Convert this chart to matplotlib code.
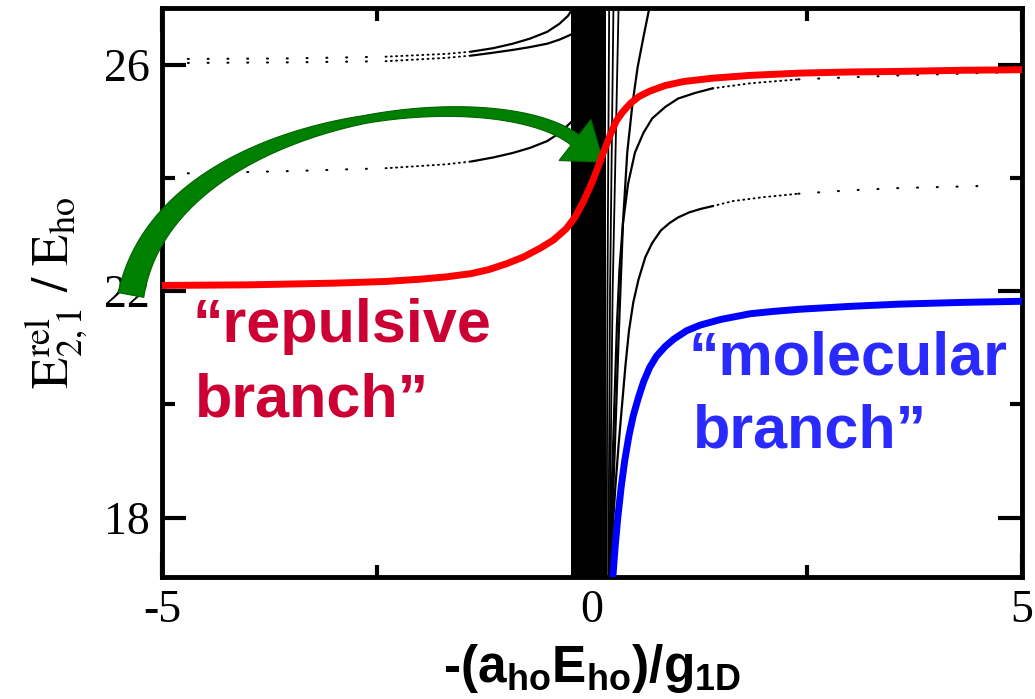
import numpy as np
import matplotlib
matplotlib.use('Agg')
import matplotlib.pyplot as plt
from matplotlib.patches import Polygon

plt.rcParams['mathtext.fontset'] = 'custom'
plt.rcParams['mathtext.rm'] = 'Liberation Sans'
plt.rcParams['mathtext.bf'] = 'Liberation Sans:bold'
plt.rcParams['mathtext.it'] = 'Liberation Sans:italic'

# ---- data ----
red_x = [-5.0, -4.0, -3.0, -2.4, -2.0, -1.7, -1.4, -1.2, -1.0, -0.8, -0.6, -0.45, -0.3, -0.2,
         -0.1, 0.0, 0.06, 0.12, 0.21, 0.28, 0.36, 0.45, 0.55, 0.67, 0.85, 1.06, 1.4, 1.84,
         2.42, 3.0, 3.58, 4.3, 5.0]
red_y = [22.10, 22.11, 22.14, 22.17, 22.21, 22.25, 22.31, 22.38, 22.48, 22.60, 22.76, 22.90,
         23.10, 23.30, 23.58, 23.92, 24.15, 24.40, 24.75, 25.00, 25.17, 25.32, 25.44, 25.53,
         25.63, 25.70, 25.76, 25.81, 25.85, 25.87, 25.88, 25.90, 25.91]

blue_x = [0.24, 0.27, 0.3, 0.34, 0.38, 0.43, 0.48, 0.54, 0.6, 0.67, 0.75, 0.85, 0.95, 1.1,
          1.26, 1.5, 1.84, 2.1, 2.42, 3.0, 3.58, 4.3, 5.0]
blue_y = [16.9, 17.5, 18.0, 18.55, 19.0, 19.45, 19.8, 20.12, 20.4, 20.65, 20.85, 21.02, 21.15,
          21.3, 21.4, 21.5, 21.6, 21.64, 21.68, 21.73, 21.77, 21.8, 21.82]

# black levels (left of the pole)
lvl_a_x = [-4.7, -3.5, -2.4, -1.69, -1.4, -1.15, -0.92, -0.72, -0.52, -0.38, -0.28, -0.2]
lvl_a_y = [26.10, 26.11, 26.14, 26.19, 26.23, 26.29, 26.37, 26.46, 26.58, 26.72, 26.86, 27.05]
lvl_b_x = [-4.7, -3.5, -2.4, -1.69, -1.4, -1.15, -0.92, -0.72, -0.52, -0.38, -0.23]
lvl_b_y = [26.03, 26.04, 26.06, 26.12, 26.16, 26.21, 26.26, 26.31, 26.37, 26.44, 26.54]
lvl_c_x = [-4.7, -3.5, -2.4, -1.69, -1.4, -1.15, -0.92, -0.72, -0.52, -0.38, -0.23]
lvl_c_y = [24.08, 24.12, 24.17, 24.24, 24.29, 24.36, 24.44, 24.53, 24.65, 24.79, 25.0]

# black levels (right of the pole)
lvl_d_x = [0.2, 0.23, 0.26, 0.29, 0.32, 0.36, 0.42, 0.5, 0.6, 0.7, 0.85, 1.0, 1.2, 1.4,
           1.84, 2.4, 3.58, 4.74]
lvl_d_y = [16.9, 18.5, 20.0, 21.4, 22.4, 23.2, 23.9, 24.45, 24.8, 25.05, 25.25, 25.4, 25.5,
           25.58, 25.67, 25.74, 25.81, 25.86]
lvl_e_x = [0.2, 0.24, 0.27, 0.31, 0.35, 0.39, 0.43, 0.48, 0.54, 0.62, 0.7, 0.8, 0.9, 1.0,
           1.13, 1.26, 1.4, 1.64, 2.0, 2.4, 3.0, 3.58, 4.63]
lvl_e_y = [16.9, 17.8, 18.5, 19.3, 20.0, 20.7, 21.3, 21.8, 22.2, 22.6, 22.85, 23.07, 23.2,
           23.3, 23.39, 23.45, 23.5, 23.59, 23.66, 23.72, 23.78, 23.82, 23.86]
lvl_f_x = [0.21, 0.26, 0.31, 0.36, 0.41, 0.47, 0.53, 0.6, 0.68]
lvl_f_y = [16.9, 19.0, 21.2, 23.2, 24.45, 25.3, 25.95, 26.5, 27.1]

# near-vertical lines next to the pole
steep_x = [[0.17, 0.18, 0.20], [0.19, 0.21, 0.25], [0.20, 0.24, 0.31]]
steep_y = [16.9, 22.0, 27.1]

# dense band of levels around the pole
band = (-0.24, 0.16)

xticks_major = [-5, 0, 5]
xticks_minor = [-2.5, 2.5]
yticks_major = [18, 22, 26]
yticks_minor = [20, 24]

W, H = 1035, 699
fig = plt.figure(figsize=(W / 100, H / 100), dpi=100)
ax = fig.add_axes((162 / W, 1 - 577 / H, (1022 - 162) / W, (577 - 8) / H))


def draw_level(xs, ys):
    xs = np.asarray(xs)
    ys = np.asarray(ys)
    a = np.abs(xs)
    far = a >= 2.4
    mid = (a >= 1.4) & (a <= 2.4)
    near = a <= 1.4
    ax.plot(xs[far], ys[far], color='black', lw=1.5, ls=(0, (0.5, 9)),
            dash_capstyle='round', zorder=2)
    ax.plot(xs[mid], ys[mid], color='black', lw=1.4, ls=(0, (0.5, 2.2)),
            dash_capstyle='round', zorder=2)
    ax.plot(xs[near], ys[near], color='black', lw=1.6, zorder=2)


ax.axvspan(band[0], band[1], color='black', lw=0, zorder=2)
for lx, ly in [(lvl_a_x, lvl_a_y), (lvl_b_x, lvl_b_y), (lvl_c_x, lvl_c_y),
               (lvl_d_x, lvl_d_y), (lvl_e_x, lvl_e_y)]:
    draw_level(lx, ly)
ax.plot(lvl_f_x, lvl_f_y, color='black', lw=1.6, zorder=2)
for sx in steep_x:
    ax.plot(sx, steep_y, color='black', lw=1.3, zorder=2)

ax.plot(red_x, red_y, color='#ff0000', lw=5, solid_capstyle='butt',
        solid_joinstyle='round', zorder=4)
ax.plot(blue_x, blue_y, color='#0000ff', lw=5, solid_capstyle='butt',
        solid_joinstyle='round', zorder=4)

# green curved arrow, drawn in figure pixels (y down)
P0, P1, P2, P3 = map(np.array, [(131, 295), (165, 112), (495, 78), (575, 140)])
t = np.linspace(0, 1, 120)[:, None]
c = (1 - t) ** 3 * P0 + 3 * (1 - t) ** 2 * t * P1 + 3 * (1 - t) * t ** 2 * P2 + t ** 3 * P3
d = 3 * (1 - t) ** 2 * (P1 - P0) + 6 * (1 - t) * t * (P2 - P1) + 3 * t ** 2 * (P3 - P2)
d = d / np.linalg.norm(d, axis=1)[:, None]
n = np.column_stack([-d[:, 1], d[:, 0]])
w = np.interp(t[:, 0], [0, 0.55, 1], [26, 8, 13])[:, None] / 2
side1 = c + n * w
side2 = c - n * w
dend, nend = d[-1], n[-1]
head = [P3 + nend * 26, P3 + dend * 36, P3 - nend * 26]
pts = np.vstack([side1, head, side2[::-1]])
pts_fig = np.column_stack([pts[:, 0] / W, 1 - pts[:, 1] / H])
arrow = Polygon(pts_fig, closed=True, facecolor='#008000', edgecolor='#006400',
                lw=0.8, transform=fig.transFigure, zorder=3)
ax.add_patch(arrow)
arrow.set_clip_on(False)

ax.set_xlim(-5, 5)
ax.set_ylim(16.95, 27)

ax.set_xticks(xticks_major)
ax.set_xticks(xticks_minor, minor=True)
ax.set_yticks(yticks_major)
ax.set_yticks(yticks_minor, minor=True)
ax.set_xticklabels([str(v) for v in xticks_major])
ax.set_yticklabels([str(v) for v in yticks_major])
ax.tick_params(which='both', direction='in', top=True, right=True, width=3, color='black')
ax.tick_params(which='major', length=17, labelsize=33, pad=9)
ax.tick_params(which='minor', length=9)
for lab in ax.get_xticklabels() + ax.get_yticklabels():
    lab.set_fontfamily('Liberation Serif')
for sp in ax.spines.values():
    sp.set_linewidth(3.5)

ax.set_xlabel('$\\mathbf{\u2010(a_{ho}E_{ho})/g_{1D}}$', fontsize=37, labelpad=7)
ax.set_ylabel(r'$\mathrm{E}^{\mathrm{rel}}_{2,1}\ /\ \mathrm{E}_{\mathrm{ho}}$',
              fontsize=37, math_fontfamily='stix', labelpad=10)

txt = dict(fontfamily='Liberation Sans', fontweight='bold', fontsize=44, va='baseline', zorder=5)
ax.text(-4.65, 21.1, '\u201crepulsive', color='#cc0033', **txt)
ax.text(-4.62, 19.78, 'branch\u201d', color='#cc0033', **txt)
ax.text(1.12, 20.52, '\u201cmolecular', color='#2a2aff', **txt)
ax.text(1.18, 19.23, 'branch\u201d', color='#2a2aff', **txt)

fig.savefig('out.png', dpi=100)
